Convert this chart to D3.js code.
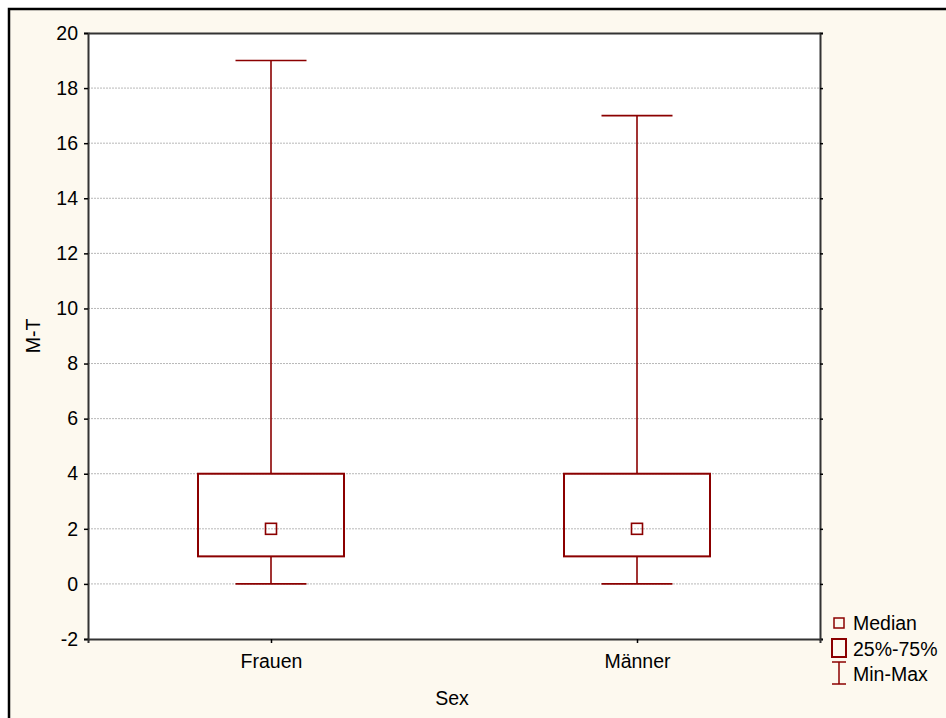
<!DOCTYPE html>
<html>
<head>
<meta charset="utf-8">
<script src="https://cdn.jsdelivr.net/npm/d3@7"></script>
<style>
  body { margin: 0; background: #fff; }
  text { font-family: "Liberation Sans", Arial, sans-serif; fill: #000; }
</style>
</head>
<body>
<script>
// data
const categories = ["Frauen", "Männer"];
const minValues = [0, 0];
const q1Values = [1, 1];
const medianValues = [2, 2];
const q3Values = [4, 4];
const maxValues = [19, 17];
const yTicks = [-2, 0, 2, 4, 6, 8, 10, 12, 14, 16, 18, 20];
const legendLabels = ["Median", "25%-75%", "Min-Max"];

const W = 946, H = 718;
const margin = { top: 33, right: 126, bottom: 79, left: 88 },
    width = W - margin.left - margin.right,
    height = H - margin.top - margin.bottom;
const red = "#8b0000";
const fs = "19.5px";

const svg = d3.select("body").append("svg")
    .attr("width", W)
    .attr("height", H)
    .attr("xmlns", "http://www.w3.org/2000/svg");

// cream panel with frame on top/left
svg.append("rect").attr("x", 9).attr("y", 9).attr("width", W).attr("height", H)
    .attr("fill", "#fdf9ef").attr("stroke", "#000").attr("stroke-width", 2.5);

const g = svg.append("g")
    .attr("transform", "translate(" + margin.left + "," + margin.top + ")");

const x = d3.scalePoint().domain(categories).range([0, width]).padding(0.5);
const y = d3.scaleLinear().domain([-2, 20]).range([height, 0]);

g.append("rect").attr("width", width).attr("height", height).attr("fill", "#fff");

// grid
g.selectAll(".grid").data(yTicks.filter(d => d > -2 && d < 20)).join("line")
    .attr("x1", 0).attr("x2", width)
    .attr("y1", d => y(d)).attr("y2", d => y(d))
    .attr("stroke", "#b8b8b8").attr("stroke-width", 1).attr("stroke-dasharray", "2,1");

// axes
const left = g.append("g").call(d3.axisLeft(y).tickValues(yTicks).tickSize(4).tickPadding(6)
    .tickFormat(d => String(d)));
left.selectAll("text").style("font-size", fs);
g.append("g").attr("transform", "translate(" + width + ",0)")
    .call(d3.axisRight(y).tickValues(yTicks).tickSize(3).tickFormat(""));
const bottom = g.append("g").attr("transform", "translate(0," + height + ")")
    .call(d3.axisBottom(x).tickSize(4).tickPadding(11));
bottom.selectAll("text").style("font-size", fs);
g.append("g").call(d3.axisTop(x).tickSize(0).tickFormat(""));
g.selectAll(".domain").attr("stroke", "#333").attr("stroke-width", 2);
g.selectAll(".tick line").attr("stroke", "#000").attr("stroke-width", 1.5);

// boxes
const rows = categories.map((c, i) => ({
  cat: c, min: minValues[i], q1: q1Values[i], med: medianValues[i], q3: q3Values[i], max: maxValues[i]
}));
const boxW = 146, capW = 71, medS = 11;
const box = g.selectAll(".box").data(rows).join("g");
box.append("line")
    .attr("x1", d => x(d.cat)).attr("x2", d => x(d.cat))
    .attr("y1", d => y(d.max)).attr("y2", d => y(d.q3))
    .attr("stroke", red).attr("stroke-width", 1.6);
box.append("line")
    .attr("x1", d => x(d.cat)).attr("x2", d => x(d.cat))
    .attr("y1", d => y(d.q1)).attr("y2", d => y(d.min))
    .attr("stroke", red).attr("stroke-width", 1.6);
box.append("line")
    .attr("x1", d => x(d.cat) - capW / 2).attr("x2", d => x(d.cat) + capW / 2)
    .attr("y1", d => y(d.max)).attr("y2", d => y(d.max))
    .attr("stroke", red).attr("stroke-width", 1.6);
box.append("line")
    .attr("x1", d => x(d.cat) - capW / 2).attr("x2", d => x(d.cat) + capW / 2)
    .attr("y1", d => y(d.min)).attr("y2", d => y(d.min))
    .attr("stroke", red).attr("stroke-width", 1.6);
box.append("rect")
    .attr("x", d => x(d.cat) - boxW / 2).attr("width", boxW)
    .attr("y", d => y(d.q3)).attr("height", d => y(d.q1) - y(d.q3))
    .attr("fill", "none").attr("stroke", red).attr("stroke-width", 2);
box.append("rect")
    .attr("x", d => x(d.cat) - medS / 2).attr("width", medS)
    .attr("y", d => y(d.med) - medS / 2).attr("height", medS)
    .attr("fill", "none").attr("stroke", red).attr("stroke-width", 1.6);

// axis titles
svg.append("text").attr("x", 452).attr("y", 705).attr("text-anchor", "middle")
    .style("font-size", fs).text("Sex");
svg.append("text").attr("transform", "translate(40,336) rotate(-90)").attr("text-anchor", "middle")
    .style("font-size", fs).text("M-T");

// legend
const lg = svg.append("g").attr("transform", "translate(839,0)");
lg.append("rect").attr("x", -5).attr("y", 618).attr("width", 10).attr("height", 10)
    .attr("fill", "none").attr("stroke", red).attr("stroke-width", 1.5);
lg.append("rect").attr("x", -7).attr("y", 639).attr("width", 14).attr("height", 18)
    .attr("fill", "none").attr("stroke", red).attr("stroke-width", 2);
lg.append("line").attr("x1", 0).attr("x2", 0).attr("y1", 662).attr("y2", 684)
    .attr("stroke", red).attr("stroke-width", 1.5);
lg.append("line").attr("x1", -7).attr("x2", 7).attr("y1", 662).attr("y2", 662)
    .attr("stroke", red).attr("stroke-width", 1.5);
lg.append("line").attr("x1", -7).attr("x2", 7).attr("y1", 684).attr("y2", 684)
    .attr("stroke", red).attr("stroke-width", 1.5);
lg.selectAll(".lt").data(legendLabels).join("text")
    .attr("x", 14).attr("y", (d, i) => 630 + i * 25.5)
    .style("font-size", fs).text(d => d);
</script>
</body>
</html>
